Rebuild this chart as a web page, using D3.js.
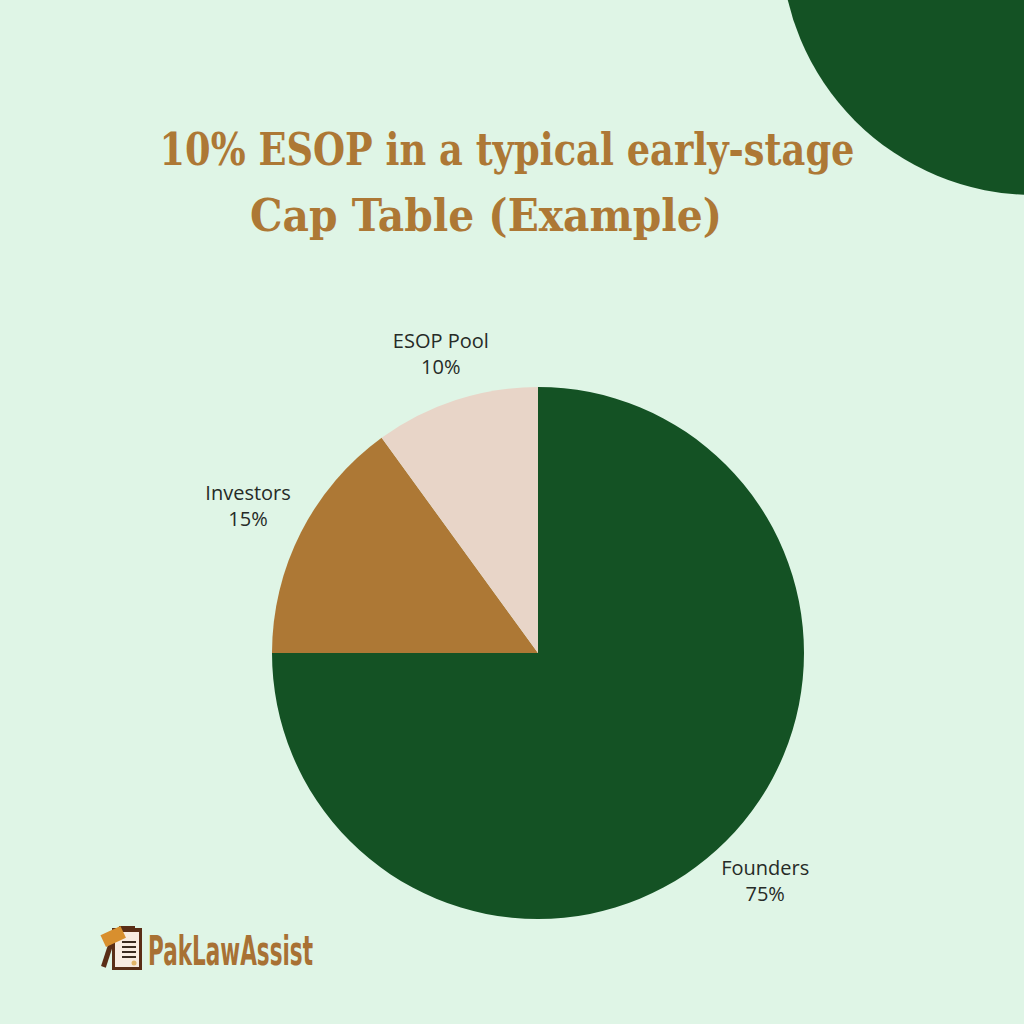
<!DOCTYPE html>
<html>
<head>
<meta charset="utf-8">
<script src="https://cdn.jsdelivr.net/npm/d3@7"></script>
<style>
	html, body { margin: 0; padding: 0; background: #dff5e6; }
	svg { display: block; }
</style>
</head>
<body>
<div id="chart"></div>
<script>
// data
var categories = ["Founders", "Investors", "ESOP Pool"];
var shares = [75, 15, 10];
var sliceColors = ["#145224", "#ad7835", "#e8d5c8"];
var titleLines = ["10% ESOP in a typical early-stage", "Cap Table (Example)"];

var width = 1024,
	height = 1024,
	cx = 538,
	cy = 653,
	radius = 266,
	labelGap = 286;

var svg = d3.select("#chart").append("svg")
	.attr("width", width)
	.attr("height", height);

svg.append("rect")
	.attr("width", width)
	.attr("height", height)
	.attr("fill", "#dff5e6");

// decorative corner circle
svg.append("circle")
	.attr("cx", 1034)
	.attr("cy", -58)
	.attr("r", 253)
	.attr("fill", "#145224");

// title (condensed serif, squeezed to the widths of the original)
var titleWidths = [695, 472];
var title = svg.append("g").attr("class", "title");
title.selectAll("text")
	.data(titleLines)
	.enter().append("text")
	.text(function(d) { return d; })
	.attr("x", function(d, i) { return i == 0 ? 507 : 486; })
	.attr("y", function(d, i) { return 165 + i * 66; })
	.attr("text-anchor", "middle")
	.attr("textLength", function(d, i) { return titleWidths[i]; })
	.attr("lengthAdjust", "spacingAndGlyphs")
	.attr("fill", "#ad7835")
	.style("font-family", "DejaVu Serif Condensed, DejaVu Serif, serif")
	.style("font-weight", "bold")
	.style("font-size", "45px");

// pie
var pieData = categories.map(function(c, i) {
	return { name: c, value: shares[i], color: sliceColors[i] };
});
var pie = d3.pie().sort(null).value(function(d) { return d.value; });
var arc = d3.arc().innerRadius(0).outerRadius(radius);

var g = svg.append("g").attr("transform", "translate(" + cx + "," + cy + ")");
var arcs = pie(pieData);

g.selectAll("path")
	.data(arcs)
	.enter().append("path")
	.attr("d", arc)
	.attr("fill", function(d) { return d.data.color; });

var labels = g.selectAll("text.lbl")
	.data(arcs)
	.enter().append("text")
	.attr("class", "lbl")
	.attr("text-anchor", "middle")
	.attr("fill", "#262b27")
	.style("font-family", "Open Sans, Noto Sans, sans-serif")
	.style("font-size", "20px");
labels.append("tspan")
	.attr("x", 0)
	.attr("y", -6)
	.text(function(d) { return d.data.name; });
labels.append("tspan")
	.attr("x", 0)
	.attr("y", 20)
	.text(function(d) { return d.data.value + "%"; });

// push each label box outward along its mid angle, pie-style
labels.attr("transform", function(d) {
	var a = (d.startAngle + d.endAngle) / 2;
	var ux = Math.sin(a), uy = -Math.cos(a);
	var bb = this.getBBox();
	var hw = bb.width / 2, hh = bb.height / 2;
	var r = labelGap + ux * ux * hw + uy * uy * hh;
	var dy = -(bb.y + hh);
	return "translate(" + (ux * r) + "," + (uy * r + dy) + ")";
});

// logo
var logo = svg.append("g").attr("transform", "translate(100,924)");
logo.append("rect")
	.attr("x", 12).attr("y", 4).attr("width", 30).attr("height", 42)
	.attr("fill", "#5a2e17");
logo.append("rect")
	.attr("x", 15).attr("y", 8).attr("width", 24).attr("height", 35)
	.attr("fill", "#f8ebe1");
logo.append("rect")
	.attr("x", 19).attr("y", 2).attr("width", 16).attr("height", 6)
	.attr("fill", "#5a2e17");
[{y: 17, w: 14}, {y: 22, w: 14}, {y: 27, w: 14}, {y: 32, w: 14}].forEach(function(l) {
	logo.append("rect").attr("x", 22).attr("y", l.y).attr("width", l.w).attr("height", 2).attr("fill", "#3a2a20");
});
logo.append("circle").attr("cx", 34).attr("cy", 39).attr("r", 2.5).attr("fill", "#e2b56a");
logo.append("rect")
	.attr("x", 9).attr("y", 18).attr("width", 5).attr("height", 26)
	.attr("transform", "rotate(18 11 18)")
	.attr("fill", "#5a2e17");
logo.append("rect")
	.attr("x", 2).attr("y", 6).attr("width", 22).attr("height", 13)
	.attr("transform", "rotate(-25 13 12)")
	.attr("fill", "#d88f2e");
logo.append("text")
	.text("PakLawAssist")
	.attr("x", 48)
	.attr("y", 41)
	.attr("textLength", 165)
	.attr("lengthAdjust", "spacingAndGlyphs")
	.attr("fill", "#a87134")
	.style("font-family", "DejaVu Sans Condensed, sans-serif")
	.style("font-weight", "bold")
	.style("font-size", "40px");
</script>
</body>
</html>
